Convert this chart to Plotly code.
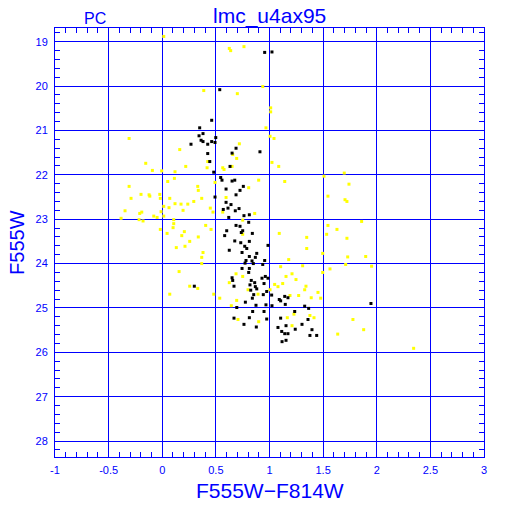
import plotly.graph_objects as go

# Black stars (color, magnitude)
black_x = [0.955, 1.023, 0.536, 0.461, 0.349, 0.343, 0.380, 0.362, 0.380, 0.268,
           0.424, 0.461, 0.499, 0.492, 0.424, 0.443, 0.480, 0.688, 0.651, 0.911,
           0.632, 0.545, 0.557, 0.651, 0.676, 0.595, 0.756, 0.725, 0.688, 0.492,
           0.299, 0.595, 0.641, 0.569, 0.613, 0.681, 0.716, 0.620, 0.688, 0.725,
           0.601, 0.582, 0.737, 0.750, 0.840, 0.806, 0.762, 0.812, 0.676, 0.732,
           0.812, 0.625, 0.769, 0.788, 0.744, 0.812, 0.881, 0.868, 0.781, 0.837,
           0.986, 0.955, 0.937, 0.772, 0.849, 0.744, 0.812, 0.806, 0.651, 0.657,
           0.930, 0.961, 0.986, 0.830, 0.669, 0.862, 0.949, 0.818, 0.868, 0.825,
           0.881, 0.974, 0.853, 0.942, 0.840, 0.775, 0.874, 0.967, 1.020, 1.091,
           1.104, 1.142, 1.172, 1.147, 1.023, 0.695, 0.843, 0.949, 0.974, 0.812,
           0.669, 0.762, 0.877, 1.104, 1.154, 1.079, 1.114, 1.142, 1.172, 1.240,
           1.235, 1.365, 1.328, 1.303, 1.359, 1.396, 1.440, 1.377, 1.117, 1.154,
           1.946]
black_y = [19.24, 19.23, 20.08, 20.77, 20.94, 21.12, 21.07, 21.22, 21.25, 21.31,
           21.31, 21.25, 21.16, 21.27, 21.52, 21.70, 21.94, 21.40, 21.51, 21.48,
           21.81, 22.06, 22.12, 22.14, 22.12, 22.32, 22.26, 22.35, 22.45, 22.50,
           24.51, 22.62, 22.67, 22.78, 22.75, 22.81, 22.76, 22.96, 23.14, 23.16,
           23.26, 23.37, 23.30, 23.26, 23.32, 23.07, 22.92, 22.90, 23.49, 23.53,
           23.50, 23.70, 23.61, 23.66, 23.75, 23.84, 23.77, 23.86, 23.93, 23.94,
           23.59, 23.93, 24.02, 23.99, 24.00, 24.11, 24.11, 24.20, 24.32, 24.38,
           24.33, 24.29, 24.33, 24.38, 24.51, 24.43, 24.45, 24.48, 24.52, 24.60,
           24.57, 24.63, 24.70, 24.70, 24.78, 24.87, 24.94, 24.93, 24.71, 24.81,
           24.84, 24.74, 24.77, 24.92, 24.95, 24.99, 25.08, 25.08, 25.25, 25.22,
           25.23, 25.37, 25.43, 25.23, 25.40, 25.44, 25.53, 25.58, 25.58, 25.48,
           25.08, 25.01, 24.96, 25.37, 25.26, 25.49, 25.62, 25.62, 25.76, 25.73,
           24.90]

# Yellow stars (color, magnitude)
yellow_x = [0.014, 0.387, -0.309, 0.163, -0.154, -0.092, -0.005, 0.119, 0.219, 0.418,
            0.424, 0.051, 0.113, -0.309, -0.198, -0.123, -0.023, 0.331, 0.336, 0.492,
            0.625, 0.638, 0.762, 0.937, 0.700, 1.011, 1.011, 0.967, 1.005, 1.042,
            0.719, 0.657, 0.694, 0.564, 0.576, 0.651, 1.023, 1.086, 0.899, 1.142,
            0.806, 1.508, 1.697, 1.741, -0.291, -0.116, -0.018, 0.070, 0.119, 0.175,
            0.238, 0.294, 0.368, 0.014, 0.063, 0.194, -0.011, -0.347, -0.210, -0.191,
            -0.384, -0.216, -0.179, -0.079, -0.048, 0.014, 0.107, 0.107, 0.101, -0.018,
            0.045, 0.206, 0.182, 0.336, 0.405, 0.448, 0.473, 0.455, 0.256, 0.212,
            0.131, 0.380, 0.368, 0.368, 0.157, 0.256, 0.331, 0.070, 0.480, 0.536,
            0.595, 1.545, 0.564, 0.750, 0.862, 0.750, 1.091, 1.347, 1.347, 1.545,
            1.533, 1.496, 1.179, 1.104, 1.309, 1.210, 1.154, 1.247, 1.123, 1.048,
            1.079, 1.340, 1.328, 1.452, 1.272, 1.191, 1.389, 1.477, 1.496, 1.564,
            0.688, 0.750, 0.625, 0.800, 0.893, 1.005, 0.644, 0.694, 0.706, 0.899,
            1.166, 1.228, 1.377, 1.415, 1.210, 1.704, 1.722, 1.859, 1.629, 1.722,
            1.729, 1.897, 1.710, 1.952, 1.778, 1.878, 1.636, 2.344]
yellow_y = [18.88, 20.10, 21.18, 21.43, 21.74, 21.90, 21.91, 21.93, 21.81, 21.84,
            21.70, 22.15, 22.08, 22.26, 22.44, 22.45, 22.44, 22.26, 22.35, 22.17,
            19.15, 19.20, 19.11, 20.01, 20.17, 20.49, 20.58, 20.94, 21.13, 21.18,
            21.30, 21.54, 21.63, 21.84, 21.88, 21.81, 21.72, 21.81, 22.12, 22.15,
            22.29, 22.03, 21.96, 22.21, 22.53, 22.48, 22.53, 22.53, 22.65, 22.66,
            22.66, 22.60, 22.53, 22.71, 22.74, 22.80, 22.83, 22.81, 22.87, 22.84,
            22.98, 23.01, 23.04, 22.93, 22.96, 22.93, 23.01, 23.10, 23.19, 23.23,
            23.32, 23.28, 23.37, 23.40, 23.14, 22.75, 22.84, 23.23, 23.50, 23.61,
            23.64, 23.75, 23.86, 24.00, 24.18, 24.51, 24.56, 24.69, 24.69, 24.78,
            22.51, 22.48, 22.84, 23.02, 22.87, 23.34, 23.32, 23.41, 23.66, 23.14,
            23.34, 23.77, 23.91, 24.07, 24.05, 24.23, 24.29, 24.36, 24.45, 24.47,
            24.52, 24.51, 24.59, 24.65, 24.72, 24.72, 24.77, 24.78, 24.20, 24.12,
            24.23, 24.29, 24.43, 24.59, 24.69, 24.59, 24.95, 24.83, 25.26, 25.31,
            25.22, 25.14, 25.17, 25.22, 25.40, 22.56, 22.60, 23.05, 23.23, 23.43,
            23.85, 23.84, 24.02, 24.06, 25.26, 25.49, 25.59, 25.91]

x_ticks = [-1, -0.5, 0, 0.5, 1, 1.5, 2, 2.5, 3]
x_tick_labels = ["-1", "-0.5", "0", "0.5", "1", "1.5", "2", "2.5", "3"]
y_ticks = [19, 20, 21, 22, 23, 24, 25, 26, 27, 28]

BLUE = "#0000FF"
FONT = "Liberation Sans"

fig = go.Figure()
fig.add_trace(go.Scatter(x=yellow_x, y=yellow_y, mode="markers",
                         marker=dict(symbol="square", size=3, color="#FFFF00",
                                     line=dict(width=0)),
                         hoverinfo="skip"))
fig.add_trace(go.Scatter(x=black_x, y=black_y, mode="markers",
                         marker=dict(symbol="square", size=3, color="#000000",
                                     line=dict(width=0)),
                         hoverinfo="skip"))

axis_common = dict(
    showline=True, linecolor=BLUE, linewidth=1, mirror="allticks",
    showgrid=True, gridcolor=BLUE, gridwidth=1, zeroline=False,
    ticks="inside", ticklen=5, tickcolor=BLUE, tickwidth=1,
    tickfont=dict(family=FONT, size=11, color=BLUE),
)

fig.update_xaxes(
    range=[-1, 3], tickvals=x_ticks, ticktext=x_tick_labels,
    minor=dict(dtick=0.1, tick0=0, ticks="inside", ticklen=5, tickcolor=BLUE,
               tickwidth=1, showgrid=False),
    ticklabelstandoff=3,
    **axis_common,
)
fig.update_yaxes(
    range=[28.36, 18.69], tickvals=y_ticks,
    minor=dict(dtick=0.2, tick0=0, ticks="inside", ticklen=5, tickcolor=BLUE,
               tickwidth=1, showgrid=False),
    ticklabelstandoff=4,
    **axis_common,
)

fig.update_layout(
    width=512, height=512,
    margin=dict(l=55, r=28, t=28, b=55, pad=0),
    paper_bgcolor="white", plot_bgcolor="white",
    showlegend=False,
    annotations=[
        dict(text="lmc_u4ax95", xref="paper", yref="paper", x=0.501, y=1.028,
             xanchor="center", yanchor="middle", showarrow=False,
             font=dict(family=FONT, size=21, color=BLUE)),
        dict(text="PC", xref="paper", yref="paper", x=0.094, y=1.023,
             xanchor="center", yanchor="middle", showarrow=False,
             font=dict(family=FONT, size=16, color=BLUE)),
        dict(text="F555W\u2212F814W", xref="paper", yref="paper", x=0.501, y=-0.077,
             xanchor="center", yanchor="middle", showarrow=False,
             font=dict(family=FONT, size=21, color=BLUE)),
        dict(text="F555W", xref="paper", yref="paper", x=-0.089, y=0.501,
             xanchor="center", yanchor="middle", showarrow=False, textangle=-90,
             font=dict(family=FONT, size=20, color=BLUE)),
    ],
)

# Remove the default page margin so the figure sits at the window's corner
fig.write_html("out.html",
               config={"displayModeBar": False, "staticPlot": True},
               post_script="document.body.style.margin='0';"
                           "document.body.style.overflow='hidden';")
